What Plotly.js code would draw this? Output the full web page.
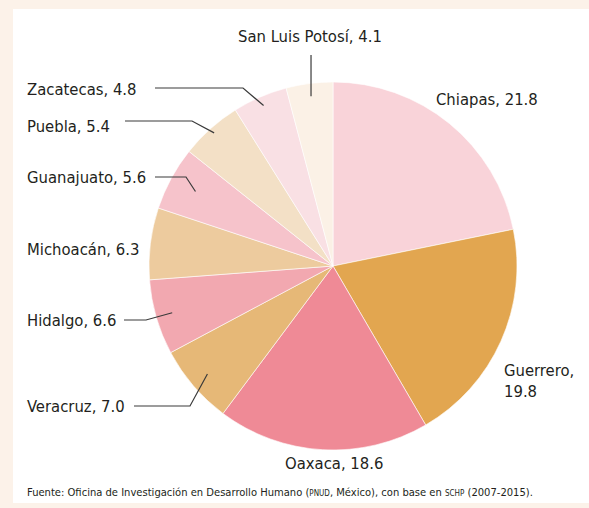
<!DOCTYPE html>
<html><head><meta charset="utf-8">
<script src="https://cdn.plot.ly/plotly-3.0.1.min.js"></script>
<style>html,body{margin:0;padding:0;background:#fcf2e9;}#chart{width:589px;height:508px;}</style>
</head><body><div id="chart"></div>
<script>
const states = ["Chiapas","Guerrero","Oaxaca","Veracruz","Hidalgo","Michoacán","Guanajuato","Puebla","Zacatecas","San Luis Potosí"];
const values = [21.8,19.8,18.6,7.0,6.6,6.3,5.6,5.4,4.8,4.1];
const colors = ["#f9d3d9","#e2a650","#ef8a96","#e6b877","#f2a8b0","#edcb9e","#f6c3cb","#f3e0c6","#f9e0e4","#fbf1e6"];

const W=589,H=508;
const cx=333, cy=266, R=184;
const px=x=>x/W, py=y=>1-y/H;
const FONT="'DejaVu Sans Condensed','Liberation Sans Narrow',sans-serif";

const labelLayout = {
  "Chiapas":        {x:434,y:100,anchor:"left",text:"Chiapas, 21.8"},
  "Guerrero":       {x:502,y:381,anchor:"left",text:"Guerrero,<br>19.8"},
  "Oaxaca":         {x:334,y:463,anchor:"center",text:"Oaxaca, 18.6"},
  "Veracruz":       {x:25,y:406,anchor:"left",text:"Veracruz, 7.0",leader:{x0:134,ex:190,ey:406,rf:0.90}},
  "Hidalgo":        {x:25,y:320,anchor:"left",text:"Hidalgo, 6.6",leader:{x0:124,ex:146,ey:320,rf:0.91}},
  "Michoacán":      {x:25,y:249,anchor:"left",text:"Michoacán, 6.3"},
  "Guanajuato":     {x:25,y:177,anchor:"left",text:"Guanajuato, 5.6",leader:{x0:155,ex:186,ey:177,rf:0.85}},
  "Puebla":         {x:25,y:126,anchor:"left",text:"Puebla, 5.4",leader:{x0:125,ex:192,ey:121,rf:0.97}},
  "Zacatecas":      {x:25,y:89,anchor:"left",text:"Zacatecas, 4.8",leader:{x0:155,ex:243,ey:88,rf:0.95}},
  "San Luis Potosí":{x:310,y:37,anchor:"center",text:"San Luis Potosí, 4.1",leader:{x0:null,ex:null,ey:55,rf:0.93}}
};

const total = values.reduce((a,b)=>a+b,0);
const annotations=[], shapes=[];
shapes.push({type:"rect",xref:"paper",yref:"paper",x0:px(13),x1:1.01,y0:py(503),y1:py(9),fillcolor:"#ffffff",line:{width:0},layer:"below"});
let cum=0;
states.forEach((s,i)=>{
  const mid=(cum+values[i]/2)/total; cum+=values[i];
  const th=mid*2*Math.PI;
  const L=labelLayout[s];
  annotations.push({xref:"paper",yref:"paper",x:px(L.x),y:py(L.y),xanchor:L.anchor,yanchor:"middle",align:"left",
    text:L.text,showarrow:false,font:{family:FONT,size:16.5,color:"#231f20"}});
  if(L.leader){
    const ld=L.leader;
    const tx=cx+ld.rf*R*Math.sin(th), ty=cy-ld.rf*R*Math.cos(th);
    const line={color:"#3a3a3a",width:1.2};
    if(ld.x0===null){
      shapes.push({type:"line",xref:"paper",yref:"paper",x0:px(tx),y0:py(ld.ey),x1:px(tx),y1:py(ty),line});
    } else {
      shapes.push({type:"path",xref:"paper",yref:"paper",
        path:`M${px(ld.x0)},${py(ld.ey)} L${px(ld.ex)},${py(ld.ey)} L${px(tx)},${py(ty)}`,line});
    }
  }
});
annotations.push({xref:"paper",yref:"paper",x:px(25),y:py(492),xanchor:"left",yanchor:"middle",showarrow:false,
  text:"Fuente: Oficina de Investigación en Desarrollo Humano (<span style='font-size:8px'>PNUD</span>, México), con base en <span style='font-size:8px'>SCHP</span> (2007-2015).",
  font:{family:FONT,size:11.1,color:"#231f20"}});

const data=[{type:"pie",labels:states,values:values,sort:false,direction:"clockwise",rotation:0,
  marker:{colors:colors,line:{color:"#ffffff",width:0.6}},textinfo:"none",hoverinfo:"label+value",
  domain:{x:[px(cx-R),px(cx+R)],y:[py(cy+R),py(cy-R)]},showlegend:false}];
const layout={width:W,height:H,margin:{l:0,r:0,t:0,b:0},paper_bgcolor:"#fcf2e9",showlegend:false,
  annotations,shapes};
Plotly.newPlot("chart",data,layout,{displayModeBar:false,staticPlot:true});
</script></body></html>
